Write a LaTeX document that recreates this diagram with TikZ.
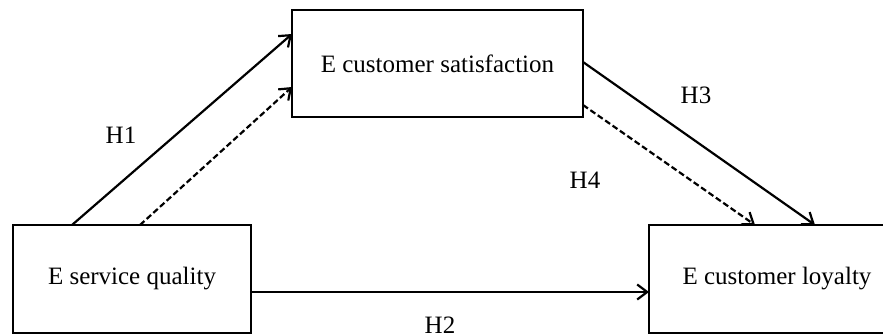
\documentclass[tikz,border=0pt]{standalone}
\usepackage{fontspec}
\setmainfont{Liberation Serif}
\usetikzlibrary{arrows.meta}
\begin{document}
\begin{tikzpicture}[x=1pt,y=-1pt,
  box/.style={draw,line width=2.2pt,rectangle,inner sep=0pt,outer sep=0pt,font=\fontsize{25}{29}\selectfont},
  lbl/.style={inner sep=0pt,font=\fontsize{25}{29}\selectfont},
  conn/.style={line width=2.2pt,-{Straight Barb[length=10pt,width=15pt,line width=2.2pt]}},
  dconn/.style={conn,dash pattern=on 6pt off 3pt}]
\useasboundingbox (0,0) rectangle (883,335);
\node[box,minimum width=238pt,minimum height=108pt] (A) at (132,279) {E service quality};
\node[box,minimum width=291pt,minimum height=107pt] (B) at (437.5,63.5) {E customer satisfaction};
\node[box,minimum width=256pt,minimum height=108pt] (C) at (777,279) {E customer loyalty};
\draw[conn] ([xshift=59pt]A.north west) -- ([yshift=-24pt]B.north west);
\draw[dconn] ([xshift=127pt]A.north west) -- ([yshift=-77pt]B.north west);
\draw[conn] ([yshift=-52pt]B.north east) -- ([xshift=166pt]C.north west);
\draw[dconn] ([yshift=-95pt]B.north east) -- ([xshift=106pt]C.north west);
\draw[conn] ([yshift=-13pt]A.east) -- ([yshift=-13pt]C.west);
\node[lbl] (h1) at (121,135) {H1};
\node[lbl] (h2) at (440,325) {H2};
\node[lbl] (h3) at (696,95) {H3};
\node[lbl] (h4) at (585,180) {H4};
\end{tikzpicture}
\end{document}
